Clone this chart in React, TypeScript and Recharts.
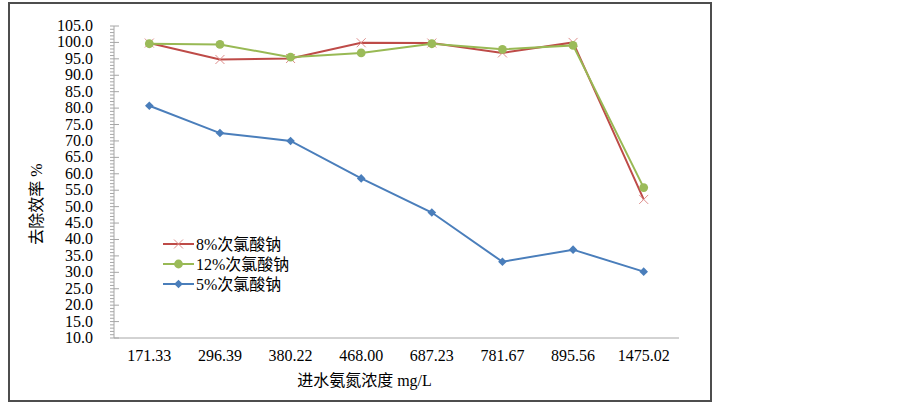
import React from "react";
import { LineChart, Line, XAxis, YAxis, Legend, Label } from "recharts";

const categories = ["171.33", "296.39", "380.22", "468.00", "687.23", "781.67", "895.56", "1475.02"];
const naclo8 = [99.8, 94.8, 95.1, 99.9, 99.8, 96.8, 100.0, 52.2];
const naclo12 = [99.6, 99.4, 95.5, 96.8, 99.6, 97.9, 99.1, 55.8];
const naclo5 = [80.7, 72.4, 70.0, 58.6, 48.2, 33.2, 36.9, 30.2];
const majorTicks = [10, 15, 20, 25, 30, 35, 40, 45, 50, 55, 60, 65, 70, 75, 80, 85, 90, 95, 100, 105];

const seriesOrder = ["n8", "n12", "n5"];
const seriesNames: Record<string, string> = {
  n8: "8%次氯酸钠",
  n12: "12%次氯酸钠",
  n5: "5%次氯酸钠",
};

const FONT = "'Liberation Serif', 'Times New Roman', 'Noto Sans CJK SC', serif";
const AXIS = "#A6A6A6";

const data = categories.map((c, i) => ({ name: c, n8: naclo8[i], n12: naclo12[i], n5: naclo5[i] }));

// minor ticks every 1.0 between the labelled majors
const yTicks: number[] = [];
for (let v = majorTicks[0]; v <= majorTicks[majorTicks.length - 1]; v++) yTicks.push(v);

function Cross({ cx, cy }: any) {
  const r = 4.5;
  return (
    <g stroke="#DE8E8C" strokeWidth={1}>
      <line x1={cx - r} y1={cy - r} x2={cx + r} y2={cy + r} />
      <line x1={cx - r} y1={cy + r} x2={cx + r} y2={cy - r} />
    </g>
  );
}
function Dot({ cx, cy }: any) {
  return <circle cx={cx} cy={cy} r={4.4} fill="#9BBB59" />;
}
function Diamond({ cx, cy }: any) {
  const r = 4.3;
  return <path d={`M${cx},${cy - r}L${cx + r},${cy}L${cx},${cy + r}L${cx - r},${cy}Z`} fill="#4A7EBB" />;
}

const markers: Record<string, any> = { n8: Cross, n12: Dot, n5: Diamond };

function YTick({ x, y, payload }: any) {
  const v = payload.value;
  const major = majorTicks.includes(v);
  return (
    <g>
      <line x1={x - 4} x2={major ? x + 5 : x} y1={y} y2={y} stroke={AXIS} />
      {major && (
        <text x={x - 21} y={y + 5} textAnchor="end" fontFamily={FONT} fontSize={16} fill="#000">
          {v.toFixed(1)}
        </text>
      )}
    </g>
  );
}

function XTick({ x, y, payload }: any) {
  return (
    <text x={x} y={y + 23} textAnchor="middle" fontFamily={FONT} fontSize={16} fill="#000">
      {payload.value}
    </text>
  );
}

function LegendBox({ payload }: any) {
  const items = seriesOrder.map((k) => (payload || []).find((p: any) => p.dataKey === k)).filter(Boolean);
  return (
    <svg width={240} height={62}>
      {items.map((p: any, i: number) => {
        const M = markers[p.dataKey];
        const cy = 10 + i * 20;
        return (
          <g key={p.dataKey}>
            <line x1={0} x2={31} y1={cy} y2={cy} stroke={p.color} strokeWidth={2} />
            <M cx={15.5} cy={cy} />
            <text x={33} y={cy + 6} fontFamily={FONT} fontSize={16} fill="#000">
              {seriesNames[p.dataKey]}
            </text>
          </g>
        );
      })}
    </svg>
  );
}

export default function App() {
  return (
    <div style={{ width: 887, height: 388 }}>
      <div
        style={{
          position: "absolute",
          top: 2,
          left: 8,
          width: 704,
          height: 400,
          border: "2px solid #4D4D4D",
          boxSizing: "border-box",
          background: "#fff",
        }}
      >
        <LineChart width={700} height={396} data={data} margin={{ top: 22, right: 31, left: 0, bottom: 0 }}>
          <XAxis
            dataKey="name"
            scale="band"
            height={62}
            tickLine={false}
            tickSize={0}
            tickMargin={0}
            interval={0}
            stroke={AXIS}
            tick={<XTick />}
          >
            <Label
              content={({ viewBox }: any) => (
                <text
                  x={viewBox.x + viewBox.width / 2 - 32}
                  y={viewBox.y + 48}
                  textAnchor="middle"
                  fontFamily={FONT}
                  fontSize={16}
                  fill="#000"
                >
                  进水氨氮浓度 mg/L
                </text>
              )}
            />
          </XAxis>
          <YAxis
            width={104}
            domain={[10, 105]}
            ticks={yTicks}
            interval={0}
            tickLine={false}
            tickSize={0}
            tickMargin={0}
            stroke={AXIS}
            tick={<YTick />}
          >
            <Label
              content={({ viewBox }: any) => {
                const cx = 26;
                const cy = viewBox.y + viewBox.height / 2 + 22;
                return (
                  <text
                    x={cx}
                    y={cy}
                    transform={`rotate(-90, ${cx}, ${cy})`}
                    textAnchor="middle"
                    dominantBaseline="central"
                    fontFamily={FONT}
                    fontSize={16}
                    fill="#000"
                  >
                    去除效率 %
                  </text>
                );
              }}
            />
          </YAxis>
          <Legend
            layout="vertical"
            align="center"
            verticalAlign="middle"
            wrapperStyle={{ left: 153, top: 230, width: 240 }}
            content={<LegendBox />}
          />
          <Line dataKey="n8" name={seriesNames.n8} stroke="#BE4B48" strokeWidth={2} dot={<Cross />} isAnimationActive={false} />
          <Line dataKey="n12" name={seriesNames.n12} stroke="#98B954" strokeWidth={2} dot={<Dot />} isAnimationActive={false} />
          <Line dataKey="n5" name={seriesNames.n5} stroke="#4A7EBB" strokeWidth={2} dot={<Diamond />} isAnimationActive={false} />
        </LineChart>
      </div>
    </div>
  );
}
